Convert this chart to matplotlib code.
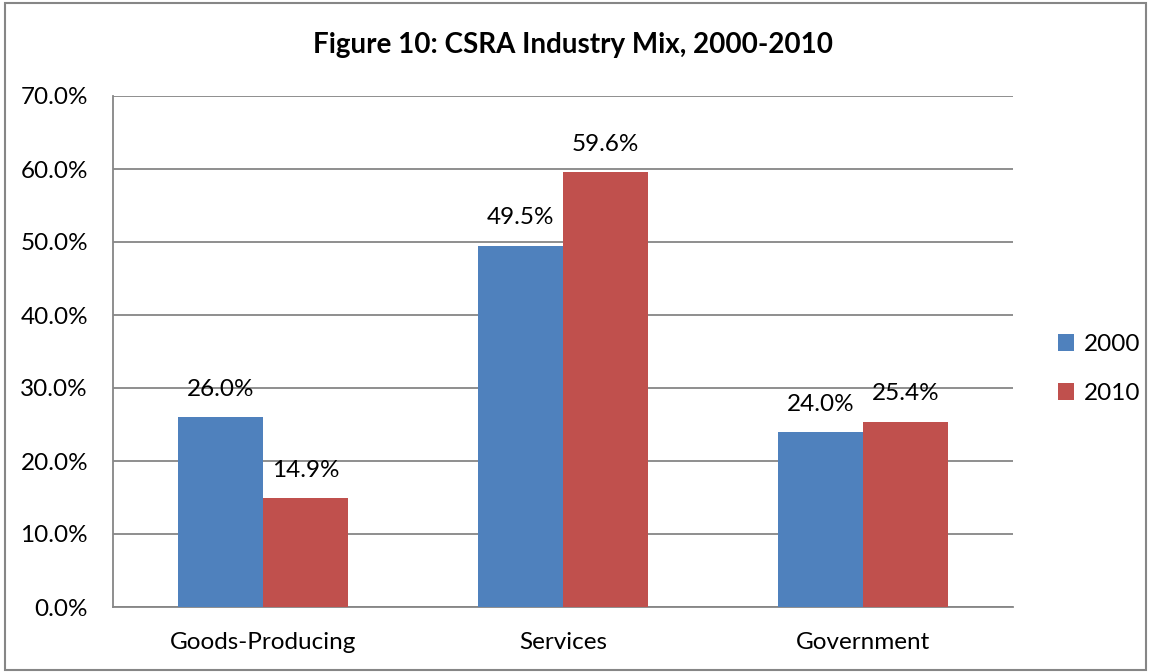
import numpy as np
import matplotlib; matplotlib.use("Agg")
import matplotlib.pyplot as plt
from matplotlib.patches import Rectangle

plt.rcParams["font.family"] = ["Lato", "DejaVu Sans"]

categories = ["Goods-Producing", "Services", "Government"]
years = ["2000", "2010"]
vals_2000 = [26.0, 49.5, 24.0]
vals_2010 = [14.9, 59.6, 25.4]
yticks = [0, 10, 20, 30, 40, 50, 60, 70]

c2000 = "#4f81bd"
c2010 = "#c0504d"
grid_c = "#868686"
fs = 17.5

fig = plt.figure(figsize=(11.51, 6.72), dpi=100)
ax = fig.add_axes([113 / 1151, 65 / 672, 900 / 1151, 511 / 672])

x = np.arange(len(categories))
w = 85 / 300
b1 = ax.bar(x - w / 2, vals_2000, w, color=c2000, label=years[0], zorder=3)
b2 = ax.bar(x + w / 2, vals_2010, w, color=c2010, label=years[1], zorder=3)

for bars, vals in ((b1, vals_2000), (b2, vals_2010)):
    for r, v in zip(bars, vals):
        ax.annotate(f"{v:.1f}%", (r.get_x() + r.get_width() / 2, v),
                    xytext=(0, 20), textcoords="offset points",
                    ha="center", va="center", fontsize=fs)

ax.set_xlim(-0.5, len(categories) - 0.5)
ax.set_ylim(0, 70)
ax.set_yticks(yticks)
ax.set_yticklabels([f"{t:.1f}%" for t in yticks], fontsize=fs)
ax.set_xticks(x)
ax.set_xticklabels(categories, fontsize=fs)
ax.tick_params(length=0)
ax.tick_params(axis="y", pad=18)
ax.tick_params(axis="x", pad=18)
ax.grid(axis="y", color=grid_c, lw=1.3, zorder=0)
for s in ("top", "right"):
    ax.spines[s].set_visible(False)
for s in ("left", "bottom"):
    ax.spines[s].set_color(grid_c)
    ax.spines[s].set_linewidth(1.3)

leg = fig.legend(handles=[b1, b2], loc="center left",
                 bbox_to_anchor=(1036 / 1151, 1 - 369 / 672), frameon=False,
                 fontsize=fs, handlelength=0.65, handleheight=0.65,
                 handletextpad=0.4, labelspacing=1.15)

fig.text(573 / 1151, 1 - 45 / 672, "Figure 10: CSRA Industry Mix, 2000-2010",
         ha="center", va="center", fontsize=20, fontweight="bold")

fig.patches.append(Rectangle((5 / 1151, 2 / 672), 1141 / 1151, 667 / 672,
                             transform=fig.transFigure, fill=False,
                             edgecolor="#868686", lw=1.5))

fig.savefig("out.png", dpi=100)
